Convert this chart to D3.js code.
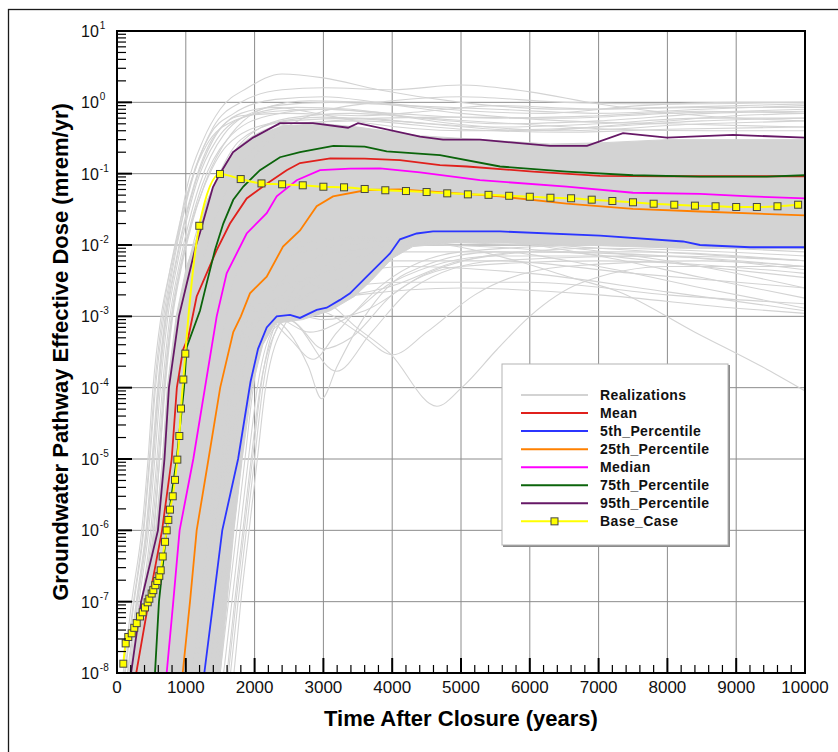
<!DOCTYPE html>
<html>
<head>
<meta charset="utf-8">
<script src="https://cdn.jsdelivr.net/npm/d3@7"></script>
<style>
  body { margin: 0; background: #fff; }
  svg { display: block; font-family: Arial, "Liberation Sans", sans-serif; }
</style>
</head>
<body>
<svg id="chart" width="838" height="752"></svg>
<script>
// ---- tick values ----
const xTicks = [0, 1000, 2000, 3000, 4000, 5000, 6000, 7000, 8000, 9000, 10000];
const yExponents = [-8, -7, -6, -5, -4, -3, -2, -1, 0, 1];

// ---- realizations: dense core of the cloud (upper edge, then lower edge) ----
const coreUpper = [[180,1e-8],[350,1e-7],[560,1e-6],[660,1e-5],[730,1e-4],[860,1e-3],[1010,5e-3],[1150,1.2e-2],[1300,4e-2],[1480,0.09],[1700,0.19],[2000,0.33],[2400,0.47],[3000,0.5],[3500,0.45],[4400,0.34],[5300,0.3],[6300,0.26],[7000,0.27],[8000,0.3],[10000,0.3]];
const coreLower = [[1500,1e-8],[1600,1e-7],[1700,1e-6],[1820,1e-5],[1960,1e-4],[2120,4e-4],[2300,8e-4],[2700,9e-4],[3100,1.2e-3],[3450,1.9e-3],[3700,3.2e-3],[4000,6.5e-3],[4300,9.5e-3],[5000,1.1e-2],[6000,1.05e-2],[7000,9.8e-3],[8200,9e-3],[10000,8.8e-3]];

// ---- individual realizations above the core ----
const realizationsHigh = [
  [[90,1e-8],[213,1e-7],[359,1e-6],[451,1e-5],[523,1e-4],[640,1e-3],[760,4e-3],[890,1.5e-2],[1017,6.5e-2],[1255,0.3],[1500,0.8],[1900,1.6],[2400,2.5],[3000,2.2],[3800,1.5],[5000,1.0],[6500,0.8],[8000,0.85],[10000,0.95]],
  [[150,1e-8],[280,1e-7],[420,1e-6],[510,1e-5],[590,1e-4],[700,1e-3],[830,6e-3],[960,2.5e-2],[1120,0.1],[1400,0.45],[1800,1.0],[2400,1.5],[3000,1.6],[4000,1.5],[5000,1.75],[6000,1.4],[7000,0.95],[8500,0.65],[10000,0.55]],
  [[120,1e-8],[250,1e-7],[390,1e-6],[480,1e-5],[560,1e-4],[680,1e-3],[800,5e-3],[930,2e-2],[1080,8e-2],[1350,0.35],[1700,0.7],[2300,1.1],[3000,1.2],[3800,1.0],[4800,0.8],[6200,0.7],[7600,0.9],[9000,1.0],[10000,1.0]],
  [[200,1e-8],[320,1e-7],[460,1e-6],[550,1e-5],[630,1e-4],[740,1e-3],[870,5e-3],[1000,2e-2],[1150,7e-2],[1450,0.3],[1900,0.65],[2600,0.85],[3400,0.8],[4400,0.6],[5600,0.5],[7000,0.55],[8600,0.7],[10000,0.75]],
  [[240,1e-8],[360,1e-7],[490,1e-6],[580,1e-5],[660,1e-4],[770,1e-3],[900,5e-3],[1040,2e-2],[1200,7e-2],[1550,0.35],[2100,0.8],[2800,1.05],[3600,1.0],[5000,0.7],[6500,0.55],[8000,0.5],[10000,0.45]],
  [[110,1e-8],[240,1e-7],[380,1e-6],[470,1e-5],[545,1e-4],[660,1e-3],[780,5e-3],[910,2e-2],[1060,7e-2],[1300,0.25],[1700,0.55],[2300,0.75],[3000,0.8],[4000,0.7],[5500,0.6],[7000,0.65],[8500,0.75],[10000,0.7]],
  [[300,1e-8],[420,1e-7],[540,1e-6],[620,1e-5],[690,1e-4],[800,1e-3],[930,5e-3],[1080,2e-2],[1250,6e-2],[1600,0.25],[2200,0.5],[3000,0.62],[4000,0.55],[5500,0.45],[7000,0.5],[8500,0.6],[10000,0.6]],
  [[700,1e-8],[850,1e-7],[980,1e-6],[1090,1e-5],[1190,1e-4],[1330,1e-3],[1480,6e-3],[1650,3e-2],[1900,0.12],[2400,0.4],[3000,0.75],[4000,1.05],[5000,1.2],[6500,1.0],[8000,0.95],[10000,1.0]],
  [[420,1e-8],[540,1e-7],[660,1e-6],[750,1e-5],[830,1e-4],[950,1e-3],[1090,5e-3],[1250,2e-2],[1450,7e-2],[1850,0.3],[2500,0.6],[3400,0.7],[4500,0.6],[5800,0.5],[7200,0.42],[8600,0.4],[10000,0.4]],
  [[180,1e-8],[300,1e-7],[440,1e-6],[530,1e-5],[610,1e-4],[720,1e-3],[850,5e-3],[980,2e-2],[1130,7e-2],[1400,0.3],[1800,0.7],[2300,0.85],[2900,0.7],[3700,0.5],[5000,0.4],[7000,0.45],[8500,0.55],[10000,0.6]],
  [[350,1e-8],[470,1e-7],[600,1e-6],[690,1e-5],[770,1e-4],[890,1e-3],[1030,5e-3],[1190,2e-2],[1380,6e-2],[1800,0.25],[2500,0.5],[3500,0.55],[5000,0.42],[6500,0.38],[8000,0.42],[10000,0.45]],
  [[260,1e-8],[380,1e-7],[510,1e-6],[600,1e-5],[680,1e-4],[790,1e-3],[920,5e-3],[1070,2e-2],[1240,7e-2],[1600,0.3],[2200,0.65],[3000,0.8],[3800,0.7],[4900,0.5],[6500,0.4],[8500,0.5],[10000,0.55]],
  [[520,1e-8],[650,1e-7],[780,1e-6],[870,1e-5],[950,1e-4],[1080,1e-3],[1230,5e-3],[1400,2e-2],[1600,6e-2],[2050,0.25],[2800,0.5],[3800,0.6],[5000,0.62],[6500,0.6],[8000,0.7],[10000,0.8]],
  [[160,1e-8],[290,1e-7],[430,1e-6],[520,1e-5],[600,1e-4],[710,1e-3],[840,5e-3],[970,2e-2],[1120,7e-2],[1380,0.3],[1800,0.65],[2500,0.7],[3500,0.65],[4500,0.75],[5500,0.9],[7000,0.8],[8500,0.85],[10000,0.85]],
  [[380,1e-8],[500,1e-7],[630,1e-6],[720,1e-5],[800,1e-4],[920,1e-3],[1060,5e-3],[1220,2e-2],[1420,7e-2],[1800,0.3],[2500,0.55],[3500,0.6],[4500,0.5],[6000,0.4],[7500,0.5],[9000,0.65],[10000,0.7]],
  [[280,1e-8],[400,1e-7],[530,1e-6],[620,1e-5],[700,1e-4],[810,1e-3],[940,5e-3],[1090,2e-2],[1270,7e-2],[1650,0.35],[2300,0.9],[3100,1.0],[4200,0.9],[5500,0.8],[7000,0.7],[8500,0.8],[10000,0.9]]
];

// ---- individual realizations below the core ----
const realizationsLow = [
  [[1300,1e-8],[1420,1e-7],[1540,1e-6],[1650,1e-5],[1760,1e-4],[1900,1e-3],[2150,4e-3],[2600,9e-3],[3400,1.3e-2],[5000,1.2e-2],[7000,9e-3],[10000,6e-3]],
  [[1400,1e-8],[1520,1e-7],[1640,1e-6],[1760,1e-5],[1880,1e-4],[2050,6e-4],[2400,2e-3],[3000,4e-3],[4000,6e-3],[5500,6e-3],[7500,4e-3],[10000,2.5e-3]],
  [[1500,1e-8],[1620,1e-7],[1740,1e-6],[1860,1e-5],[1980,1e-4],[2200,7e-4],[2600,1.8e-3],[3200,2.5e-3],[4200,3e-3],[6000,3e-3],[8000,2e-3],[10000,1.5e-3]],
  [[1450,1e-8],[1570,1e-7],[1690,1e-6],[1810,1e-5],[1930,1e-4],[2120,1e-3],[2500,4e-3],[3200,8e-3],[4500,1e-2],[6500,8e-3],[8500,5e-3],[10000,3.5e-3]],
  [[1600,1e-8],[1710,1e-7],[1830,1e-6],[1950,1e-5],[2080,1e-4],[2300,6e-4],[2700,1.5e-3],[3500,2e-3],[5000,2.5e-3],[7000,2e-3],[9000,1.3e-3],[10000,1.1e-3]],
  [[1250,1e-8],[1370,1e-7],[1480,1e-6],[1580,1e-5],[1680,1e-4],[1850,6e-4],[2150,1e-3],[2500,6e-4],[2780,2e-4],[2975,7e-5],[3200,2e-4],[3600,1e-3],[4200,4e-3],[5500,8e-3],[7500,8e-3],[10000,6e-3]],
  [[1350,1e-8],[1470,1e-7],[1590,1e-6],[1700,1e-5],[1810,1e-4],[1980,8e-4],[2400,1.8e-3],[3000,1.6e-3],[3480,7e-4],[3970,3e-4],[4650,5.5e-5],[5010,1e-4],[5520,3.4e-4],[6000,1e-3],[6730,2.9e-3],[8000,5e-3],[10000,5e-3]],
  [[1200,1e-8],[1320,1e-7],[1430,1e-6],[1530,1e-5],[1630,1e-4],[1780,8e-4],[2100,1.5e-3],[2600,8e-4],[3190,1.7e-4],[3700,6e-4],[4300,2.5e-3],[5500,6e-3],[8000,7e-3],[10000,6e-3]],
  [[1550,1e-8],[1670,1e-7],[1790,1e-6],[1910,1e-5],[2040,1e-4],[2300,7e-4],[2900,1.2e-3],[3500,6e-4],[4010,2.9e-4],[4500,6e-4],[5200,2e-3],[6500,5e-3],[8500,6e-3],[10000,5e-3]],
  [[1100,1e-8],[1220,1e-7],[1330,1e-6],[1430,1e-5],[1530,1e-4],[1680,8e-4],[2000,1.3e-3],[2500,5e-4],[2850,2.5e-4],[3200,6e-4],[3800,2.5e-3],[5000,8e-3],[7000,1e-2],[10000,8e-3]],
  [[1000,1e-8],[1120,1e-7],[1230,1e-6],[1330,1e-5],[1430,1e-4],[1580,1e-3],[1800,5e-3],[2300,1e-2],[3500,1.2e-2],[4800,1e-2],[5800,6e-3],[6600,3.5e-3],[7300,2.2e-3],[8400,6e-4],[9450,1.8e-4],[10000,9e-5]],
  [[1650,1e-8],[1760,1e-7],[1880,1e-6],[2000,1e-5],[2120,1e-4],[2400,1e-3],[3000,4e-3],[4000,8e-3],[5500,8e-3],[7000,5e-3],[8500,2.5e-3],[10000,1.3e-3]],
  [[1620,1e-8],[1730,1e-7],[1850,1e-6],[1970,1e-5],[2090,1e-4],[2350,1e-3],[3000,5e-3],[4000,1e-2],[5500,1.1e-2],[7000,7e-3],[8500,3.5e-3],[10000,1.8e-3]],
  [[1700,1e-8],[1800,1e-7],[1920,1e-6],[2040,1e-5],[2160,1e-4],[2450,8e-4],[3100,3e-3],[4200,5e-3],[6000,4e-3],[8000,2.2e-3],[10000,1.2e-3]],
  [[1200,1e-8],[1320,1e-7],[1430,1e-6],[1530,1e-5],[1640,1e-4],[1800,1e-3],[2100,4e-3],[2700,8e-3],[4000,1.1e-2],[6000,1e-2],[8000,6e-3],[10000,2.5e-3]],
  [[1150,1e-8],[1270,1e-7],[1380,1e-6],[1480,1e-5],[1580,1e-4],[1730,7e-4],[2000,1.2e-3],[2400,9e-4],[2800,6e-4],[3300,9e-4],[4000,3e-3],[5500,7e-3],[7500,7e-3],[10000,5e-3]],
  [[1350,1e-8],[1470,1e-7],[1580,1e-6],[1690,1e-5],[1800,1e-4],[1950,6e-4],[2250,1.1e-3],[2600,8e-4],[3000,3.5e-4],[3400,5e-4],[4000,2e-3],[5000,5e-3],[7000,6e-3],[10000,4e-3]],
  [[1420,1e-8],[1540,1e-7],[1660,1e-6],[1780,1e-5],[1900,1e-4],[2080,6e-4],[2500,1.1e-3],[3000,9e-4],[3600,1.2e-3],[4500,4e-3],[6000,8e-3],[8000,7e-3],[10000,4.5e-3]],
  [[1280,1e-8],[1400,1e-7],[1510,1e-6],[1610,1e-5],[1710,1e-4],[1860,9e-4],[2200,2.5e-3],[2700,3e-3],[3300,2e-3],[3900,2.5e-3],[5000,6e-3],[7000,9e-3],[10000,7e-3]]
];

// ---- statistics ----
const mean = [[280,1e-8],[460,1e-7],[655,1e-6],[795,1e-5],[870,1e-4],[960,3.4e-4],[1037,5.1e-4],[1158,1.9e-3],[1303,4e-3],[1449,8.5e-3],[1642,2e-2],[1885,4.5e-2],[2176,7.2e-2],[2466,0.112],[2660,0.141],[3100,0.164],[3600,0.163],[4113,0.155],[4695,0.132],[5087,0.126],[6047,0.107],[7020,0.093],[8000,0.092],[10000,0.092]];
const pct5 = [[1269,1e-8],[1400,1e-7],[1530,1e-6],[1760,1e-5],[1940,1.2e-4],[2050,3.5e-4],[2176,7e-4],[2321,1e-3],[2515,1.05e-3],[2660,9.5e-4],[2902,1.23e-3],[3048,1.32e-3],[3241,1.7e-3],[3387,2.1e-3],[3629,3.6e-3],[3968,7.6e-3],[4113,1.2e-2],[4356,1.45e-2],[4593,1.55e-2],[5567,1.55e-2],[7020,1.35e-2],[8227,1.12e-2],[8474,1e-2],[9201,9.3e-3],[10000,9.3e-3]];
const pct25 = [[955,1e-8],[1061,1e-7],[1158,1e-6],[1330,1e-5],[1500,1e-4],[1690,6e-4],[1800,1e-3],[1933,2.1e-3],[2176,3.6e-3],[2413,9.5e-3],[2660,1.6e-2],[2902,3.5e-2],[3140,4.8e-2],[3629,5.9e-2],[4113,6e-2],[4593,5.6e-2],[5567,4.8e-2],[6536,3.8e-2],[7500,3.2e-2],[8474,2.95e-2],[10000,2.6e-2]];
const median = [[722,1e-8],[818,1e-7],[910,1e-6],[1109,1e-5],[1279,1e-4],[1449,1e-3],[1594,4e-3],[1885,1.45e-2],[2176,2.8e-2],[2321,4.8e-2],[2612,8.1e-2],[2951,0.112],[3387,0.118],[3823,0.119],[4404,0.104],[5276,0.081],[6536,0.066],[7500,0.054],[8474,0.052],[9201,0.048],[10000,0.045]];
const pct75 = [[552,1e-8],[610,1e-7],[720,1e-6],[868,1e-5],[974,1e-4],[1013,3.7e-4],[1206,1.2e-3],[1303,2.9e-3],[1424,8.5e-3],[1545,2e-2],[1690,4.3e-2],[1836,6.6e-2],[2078,0.112],[2369,0.17],[2660,0.2],[3145,0.245],[3600,0.24],[3920,0.205],[4695,0.182],[5567,0.126],[6536,0.107],[7500,0.095],[8474,0.091],[9443,0.091],[10000,0.095]];
const pct95 = [[205,1e-8],[350,1e-7],[595,1e-6],[690,1e-5],[755,1e-4],[900,1e-3],[1017,2.95e-3],[1150,1e-2],[1206,1.48e-2],[1395,6.5e-2],[1497,0.1],[1686,0.2],[1977,0.32],[2369,0.51],[2849,0.51],[3358,0.44],[3503,0.51],[4404,0.33],[4738,0.3],[5276,0.3],[6294,0.245],[6831,0.245],[7355,0.37],[7994,0.32],[8953,0.35],[10000,0.32]];
const baseCase = [[92,1.35e-8],[126,2.6e-8],[164,3.2e-8],[214,3.6e-8],[251,4.3e-8],[286,5.0e-8],[334,6.2e-8],[373,7.1e-8],[407,8.3e-8],[446,9.8e-8],[470,1.1e-7],[504,1.3e-7],[528,1.45e-7],[557,1.7e-7],[586,1.95e-7],[615,2.3e-7],[635,2.75e-7],[664,4.3e-7],[698,6.9e-7],[722,1.0e-6],[746,1.4e-6],[770,1.95e-6],[810,3.0e-6],[843,5.1e-6],[877,9.8e-6],[906,2.1e-5],[930,5.1e-5],[964,1.3e-4],[993,3.0e-4],[1196,1.86e-2],[1497,0.099],[1798,0.084],[2100,0.073],[2400,0.071],[2700,0.0687],[3000,0.0656],[3300,0.0644],[3600,0.061],[3900,0.0585],[4200,0.0571],[4500,0.0553],[4800,0.053],[5100,0.0513],[5400,0.0505],[5700,0.049],[6000,0.0475],[6300,0.046],[6600,0.0452],[6900,0.0432],[7200,0.0414],[7500,0.0397],[7800,0.0379],[8100,0.0367],[8400,0.0356],[8700,0.0349],[9000,0.0341],[9300,0.0341],[9600,0.0349],[9900,0.0367]];

const series = [
  { name: 'Mean', data: mean, color: '#e0201c' },
  { name: '5th_Percentile', data: pct5, color: '#2b35ff' },
  { name: '25th_Percentile', data: pct25, color: '#ff8000' },
  { name: 'Median', data: median, color: '#ff00ff' },
  { name: '75th_Percentile', data: pct75, color: '#0b640b' },
  { name: '95th_Percentile', data: pct95, color: '#661866' }
];
const grayColor = '#d3d3d3';
const yellow = '#ffff00';

// ---- layout ----
const svg = d3.select('#chart');
const plotLeft = 117, plotRight = 805, plotTop = 31, plotBottom = 673;
const x = d3.scaleLinear().domain([0, 10000]).range([plotLeft, plotRight]);
const y = d3.scaleLog().domain([1e-8, 10]).range([plotBottom, plotTop]);

// outer frame
svg.append('rect')
  .attr('x', 8.5).attr('y', 9.5)
  .attr('width', 840).attr('height', 760)
  .attr('fill', 'none').attr('stroke', '#1a1a1a').attr('stroke-width', 1.3);

svg.append('clipPath').attr('id', 'plotclip')
  .append('rect').attr('x', plotLeft).attr('y', plotTop)
  .attr('width', plotRight - plotLeft).attr('height', plotBottom - plotTop);

// grid
const grid = svg.append('g').attr('stroke', '#8c8c8c').attr('stroke-width', 1);
grid.selectAll('line.v')
  .data(xTicks.slice(1, -1))
  .enter().append('line')
  .attr('x1', d => x(d)).attr('x2', d => x(d))
  .attr('y1', plotTop).attr('y2', plotBottom);
grid.selectAll('line.h')
  .data(yExponents.slice(1, -1))
  .enter().append('line')
  .attr('x1', plotLeft).attr('x2', plotRight)
  .attr('y1', d => y(Math.pow(10, d))).attr('y2', d => y(Math.pow(10, d)));

const plot = svg.append('g').attr('clip-path', 'url(#plotclip)');

// realization cloud
const polyLine = d3.line().x(d => x(d[0])).y(d => y(d[1])).curve(d3.curveMonotoneX);
const corePoly = coreUpper.concat(coreLower.slice().reverse());
plot.append('path')
  .attr('d', d3.line().x(d => x(d[0])).y(d => y(d[1])).curve(d3.curveLinearClosed)(corePoly))
  .attr('fill', grayColor).attr('stroke', grayColor).attr('stroke-width', 1);

plot.selectAll('path.real')
  .data(realizationsHigh.concat(realizationsLow))
  .enter().append('path')
  .attr('class', 'real')
  .attr('d', polyLine)
  .attr('fill', 'none')
  .attr('stroke', grayColor)
  .attr('stroke-width', 1.1);

// statistics
const statLine = d3.line().x(d => x(d[0])).y(d => y(d[1]));
series.forEach(s => {
  plot.append('path')
    .attr('d', statLine(s.data))
    .attr('fill', 'none')
    .attr('stroke', s.color)
    .attr('stroke-width', 1.8);
});

// base case
plot.append('path')
  .attr('d', d3.line().x(d => x(d[0])).y(d => y(d[1])).curve(d3.curveMonotoneX)(baseCase))
  .attr('fill', 'none').attr('stroke', yellow).attr('stroke-width', 2);

plot.selectAll('rect.marker')
  .data(baseCase)
  .enter().append('rect')
  .attr('class', 'marker')
  .attr('x', d => x(d[0]) - 3.5).attr('y', d => y(d[1]) - 3.5)
  .attr('width', 7).attr('height', 7)
  .attr('fill', yellow).attr('stroke', '#454545').attr('stroke-width', 1);

// axes frame
svg.append('rect')
  .attr('x', plotLeft).attr('y', plotTop)
  .attr('width', plotRight - plotLeft).attr('height', plotBottom - plotTop)
  .attr('fill', 'none').attr('stroke', '#000').attr('stroke-width', 2);

// y ticks (major + minor)
const yAxis = svg.append('g').attr('stroke', '#000');
yExponents.forEach(e => {
  const v = Math.pow(10, e);
  yAxis.append('line').attr('x1', plotLeft).attr('x2', plotLeft + 15)
    .attr('y1', y(v)).attr('y2', y(v)).attr('stroke-width', 2);
  if (e < 1) {
    for (let m = 2; m <= 9; m++) {
      const yy = y(m * v);
      yAxis.append('line').attr('x1', plotLeft).attr('x2', plotLeft + 9)
        .attr('y1', yy).attr('y2', yy).attr('stroke-width', 1.2);
    }
  }
});

// y tick labels
const yLabels = svg.append('g').attr('fill', '#111');
yExponents.forEach(e => {
  const t = yLabels.append('text')
    .attr('x', 81).attr('y', y(Math.pow(10, e)) + 6)
    .attr('font-size', 16);
  t.append('tspan').text('10');
  t.append('tspan').attr('dx', 1).attr('dy', -8).attr('font-size', 10).text(e);
});

// x ticks
const xAxis = svg.append('g').attr('stroke', '#000');
xTicks.forEach((t, i) => {
  xAxis.append('line').attr('x1', x(t)).attr('x2', x(t))
    .attr('y1', plotBottom).attr('y2', plotBottom - 15).attr('stroke-width', 2);
  if (i < xTicks.length - 1) {
    [200, 400, 600, 800].forEach(m => {
      xAxis.append('line').attr('x1', x(t + m)).attr('x2', x(t + m))
        .attr('y1', plotBottom).attr('y2', plotBottom - 8).attr('stroke-width', 1.2);
    });
  }
});
svg.append('g').selectAll('text')
  .data(xTicks)
  .enter().append('text')
  .attr('x', d => x(d)).attr('y', 693)
  .attr('text-anchor', 'middle')
  .attr('font-size', 17)
  .attr('fill', '#111')
  .text(d => d);

// axis titles
svg.append('text')
  .attr('x', (plotLeft + plotRight) / 2).attr('y', 726)
  .attr('text-anchor', 'middle')
  .attr('font-size', 22).attr('font-weight', 'bold')
  .text('Time After Closure (years)');
svg.append('text')
  .attr('transform', `translate(68,${(plotTop + plotBottom) / 2}) rotate(-90)`)
  .attr('text-anchor', 'middle')
  .attr('font-size', 22).attr('font-weight', 'bold')
  .text('Groundwater Pathway Effective Dose (mrem/yr)');

// legend
const legendItems = [{ name: 'Realizations', color: grayColor }]
  .concat(series.map(s => ({ name: s.name, color: s.color })))
  .concat([{ name: 'Base_Case', color: yellow, marker: true }]);
const lg = svg.append('g');
lg.append('rect').attr('x', 503).attr('y', 365).attr('width', 227).attr('height', 182)
  .attr('fill', '#8a8a8a');
lg.append('rect').attr('x', 502).attr('y', 364).attr('width', 226).attr('height', 181)
  .attr('fill', '#fff').attr('stroke', '#b4b4b4').attr('stroke-width', 1);
legendItems.forEach((d, i) => {
  const yy = 395 + i * 18.05;
  lg.append('line').attr('x1', 521).attr('x2', 588).attr('y1', yy).attr('y2', yy)
    .attr('stroke', d.color).attr('stroke-width', 2);
  if (d.marker) {
    lg.append('rect').attr('x', 551).attr('y', yy - 3.5).attr('width', 7).attr('height', 7)
      .attr('fill', yellow).attr('stroke', '#454545');
  }
  lg.append('text').attr('x', 600).attr('y', yy + 5)
    .attr('font-size', 14).attr('font-weight', 'bold').attr('letter-spacing', 0.4)
    .attr('fill', '#111')
    .text(d.name);
});
</script>
</body>
</html>
